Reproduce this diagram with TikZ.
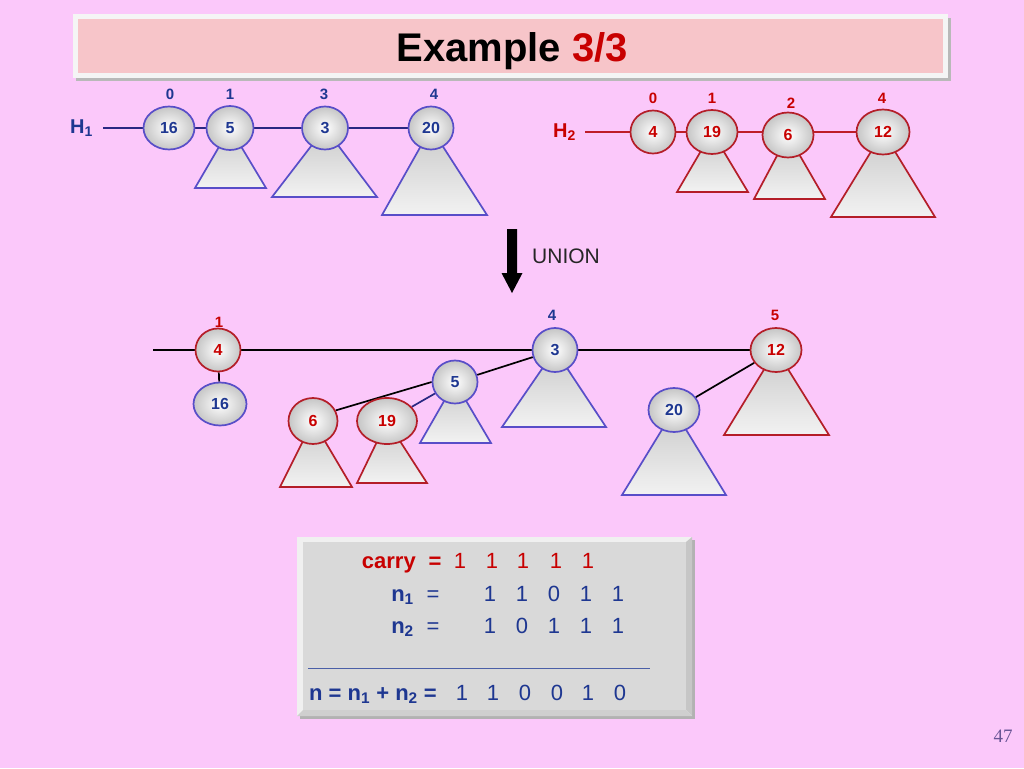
\documentclass[tikz,border=0pt]{standalone}
\usepackage{fontspec}
\setmainfont{Liberation Sans}
\newfontfamily\serifnum{Liberation Serif}
\usetikzlibrary{shapes.geometric}
\pgfdeclarelayer{bgl}\pgfdeclarelayer{tri}\pgfdeclarelayer{edge}
\pgfsetlayers{bgl,tri,edge,main}
\definecolor{bgpink}{RGB}{251,200,250}
\definecolor{titlepink}{RGB}{247,197,201}
\definecolor{nblue}{RGB}{88,78,200}
\definecolor{tblue}{RGB}{30,55,145}
\definecolor{nred}{RGB}{180,30,40}
\definecolor{tred}{RGB}{200,0,0}
\definecolor{lblue}{RGB}{40,40,130}
\definecolor{lred}{RGB}{190,30,40}
\definecolor{boxgray}{RGB}{217,217,217}
\definecolor{pagecol}{RGB}{105,85,150}
\newcommand\bintri[6]{\draw[draw=#6, line width=1.7pt, top color=gray!42, bottom color=gray!10] (#1,#2) -- (#4,#3) -- (#5,#3) -- cycle;}
\begin{document}
\begin{tikzpicture}[x=1pt,y=-1pt,
  hnode/.style={ellipse, line width=1.7pt, inner sep=0pt, inner color=white, outer color=gray!45, font=\fontsize{16}{18}\selectfont\bfseries},
  bnode/.style={hnode, draw=nblue, text=tblue},
  rnode/.style={hnode, draw=nred, text=tred},
  deg/.style={anchor=base, inner sep=0pt, font=\fontsize{15}{17}\selectfont\bfseries},
  bdeg/.style={deg, text=tblue},
  rdeg/.style={deg, text=tred},
  heap/.style={anchor=base west, inner sep=0pt, font=\fontsize{20}{24}\selectfont\bfseries},
  bx/.style={anchor=base, inner sep=0pt, font=\fontsize{22}{26}\selectfont},
  bxb/.style={bx, font=\fontsize{22}{26}\selectfont\bfseries},
  edgeblack/.style={draw=black, line width=1.7pt},
]
\useasboundingbox (0,0) rectangle (1024,768);
\begin{pgfonlayer}{bgl}
\fill[bgpink] (0,0) rectangle (1024,768);
\end{pgfonlayer}

% title
\fill[gray!55] (76,18) rectangle (951,81);
\fill[white!92!gray] (73,14) rectangle (948,78);
\fill[titlepink] (78,19) rectangle (943,73);
\node[anchor=base, inner sep=0pt, font=\fontsize{40}{48}\selectfont\bfseries] (title) at (512,61) {Example \textcolor{tred}{3/3}};

% ---------- H1 ----------
\node[heap, text=tblue] (h1) at (70,133) {H\textsubscript{1}};
\node[bnode, minimum width=51pt, minimum height=43pt] (a16) at (169,128) {16};
\node[bnode, minimum width=47pt, minimum height=44pt] (a5) at (230,128) {5};
\node[bnode, minimum width=46pt, minimum height=43pt] (a3) at (325,128) {3};
\node[bnode, minimum width=45pt, minimum height=43pt] (a20) at (431,128) {20};
\node[bdeg] (d0) at (170,99) {0};
\node[bdeg] (d1) at (230,99) {1};
\node[bdeg] (d3) at (324,99) {3};
\node[bdeg] (d4) at (434,99) {4};
\coordinate (h1s) at (103,128);
\begin{pgfonlayer}{tri}
\bintri{230}{128}{188}{195}{266}{nblue}
\bintri{325}{128}{197}{272}{377}{nblue}
\bintri{431}{128}{215}{382}{487}{nblue}
\end{pgfonlayer}
\begin{pgfonlayer}{edge}
\draw[draw=lblue, line width=1.7pt] (h1s) -- (a16) -- (a5) -- (a3) -- (a20);
\end{pgfonlayer}

% ---------- H2 ----------
\node[heap, text=tred] (h2) at (553,137) {H\textsubscript{2}};
\node[rnode, minimum width=45pt, minimum height=43pt] (c4) at (653,132) {4};
\node[rnode, minimum width=51pt, minimum height=44pt] (c19) at (712,132) {19};
\node[rnode, minimum width=51pt, minimum height=45pt] (c6) at (788,135) {6};
\node[rnode, minimum width=53pt, minimum height=45pt] (c12) at (883,132) {12};
\node[rdeg] (e0) at (653,103) {0};
\node[rdeg] (e1) at (712,103) {1};
\node[rdeg] (e2) at (791,108) {2};
\node[rdeg] (e4) at (882,103) {4};
\coordinate (h2s) at (585,132);
\begin{pgfonlayer}{tri}
\bintri{712}{132}{192}{677}{748}{nred}
\bintri{788}{135}{199}{754}{825}{nred}
\bintri{883}{132}{217}{831}{935}{nred}
\end{pgfonlayer}
\begin{pgfonlayer}{edge}
\draw[draw=lred, line width=1.7pt] (h2s) -- (c4) -- (c19) -- (c19.east -| c6.west) -- (c12.west);
\end{pgfonlayer}

% ---------- UNION arrow ----------
\fill[black] (507,229) -- (517,229) -- (517,273) -- (522.5,273) -- (512,293) -- (501.5,273) -- (507,273) -- cycle;
\node[anchor=base west, inner sep=0pt, font=\fontsize{21}{25}\selectfont, text=black!85] (union) at (532,263) {UNION};

% ---------- result ----------
\node[rnode, minimum width=45pt, minimum height=43pt] (r4) at (218,350) {4};
\node[bnode, minimum width=53pt, minimum height=43pt] (r16) at (220,404) {16};
\node[bnode, minimum width=45pt, minimum height=44pt] (r3) at (555,350) {3};
\node[bnode, minimum width=45pt, minimum height=43pt] (r5) at (455,382) {5};
\node[rnode, minimum width=49pt, minimum height=46pt] (r6) at (313,421) {6};
\node[rnode, minimum width=60pt, minimum height=46pt] (r19) at (387,421) {19};
\node[rnode, minimum width=51pt, minimum height=44pt] (r12) at (776,350) {12};
\node[bnode, minimum width=51pt, minimum height=44pt] (r20) at (674,410) {20};
\node[rdeg] (f1) at (219,327) {1};
\node[bdeg] (f4) at (552,320) {4};
\node[rdeg] (f5) at (775,320) {5};
\coordinate (rs) at (153,350);
\begin{pgfonlayer}{tri}
\bintri{555}{350}{427}{502}{606}{nblue}
\bintri{455}{382}{443}{420}{491}{nblue}
\bintri{313}{421}{487}{280}{352}{nred}
\bintri{387}{421}{483}{357}{427}{nred}
\bintri{776}{350}{435}{724}{829}{nred}
\bintri{674}{410}{495}{622}{726}{nblue}
\end{pgfonlayer}
\begin{pgfonlayer}{edge}
\draw[edgeblack] (rs) -- (r4) -- (r3) -- (r12);
\draw[edgeblack] (r4) -- (r16);
\draw[edgeblack] (r3) -- (r5);
\draw[edgeblack] (r5.west) -- (r6.25);
\draw[draw=lblue, line width=1.7pt] (r5) -- (r19);
\draw[edgeblack] (r12) -- (r20);
\end{pgfonlayer}

% ---------- box ----------
\fill[gray!60] (300,540) rectangle (695,719);
\fill[gray!12] (297,537) rectangle (692,716);
\fill[gray!45] (686,542) -- (692,537) -- (692,716) -- (686,710) -- cycle;
\fill[gray!38] (303,710) -- (686,710) -- (692,716) -- (297,716) -- cycle;
\fill[boxgray] (303,542) rectangle (686,710);

\node[bxb, anchor=base east, text=tred] (carry) at (416,568) {carry};
\node[bxb, text=tred] (ceq) at (435,568) {=};
\node[bx, text=tred] (c1) at (460,568) {1};
\node[bx, text=tred] (c2) at (492,568) {1};
\node[bx, text=tred] (c3) at (523,568) {1};
\node[bx, text=tred] (c4b) at (556,568) {1};
\node[bx, text=tred] (c5) at (588,568) {1};

\node[bxb, anchor=base east, text=tblue] (n1) at (414,601) {n\textsubscript{1}};
\node[bx, text=tblue] (n1eq) at (433,601) {=};
\node[bx, text=tblue] (p1) at (490,601) {1};
\node[bx, text=tblue] (p2) at (522,601) {1};
\node[bx, text=tblue] (p3) at (554,601) {0};
\node[bx, text=tblue] (p4) at (586,601) {1};
\node[bx, text=tblue] (p5) at (618,601) {1};

\node[bxb, anchor=base east, text=tblue] (n2) at (414,633) {n\textsubscript{2}};
\node[bx, text=tblue] (n2eq) at (433,633) {=};
\node[bx, text=tblue] (q1) at (490,633) {1};
\node[bx, text=tblue] (q2) at (522,633) {0};
\node[bx, text=tblue] (q3) at (554,633) {1};
\node[bx, text=tblue] (q4) at (586,633) {1};
\node[bx, text=tblue] (q5) at (618,633) {1};

\draw[draw=tblue!80, line width=0.8pt] (308,668) -- (650,668);

\node[bxb, anchor=base west, text=tblue] (nsum) at (309,700) {n = n\textsubscript{1} + n\textsubscript{2} =};
\node[bx, text=tblue] (s1) at (462,700) {1};
\node[bx, text=tblue] (s2) at (493,700) {1};
\node[bx, text=tblue] (s3) at (525,700) {0};
\node[bx, text=tblue] (s4) at (557,700) {0};
\node[bx, text=tblue] (s5) at (588,700) {1};
\node[bx, text=tblue] (s6) at (620,700) {0};

\node[anchor=base, inner sep=0pt, font=\serifnum\fontsize{19}{22}\selectfont, text=pagecol] (pg) at (1003,742) {47};
\end{tikzpicture}
\end{document}
